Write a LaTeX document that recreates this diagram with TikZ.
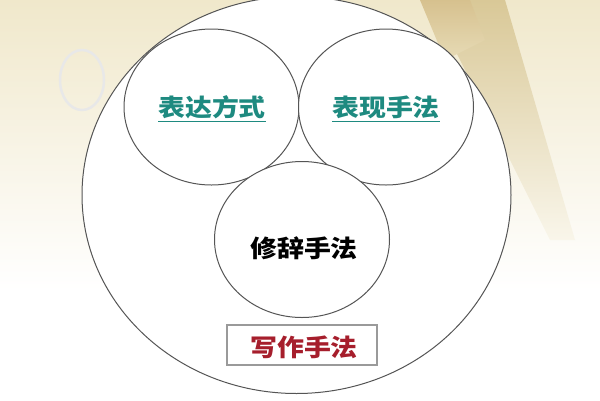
\documentclass[tikz,border=0pt]{standalone}
\usepackage{fontspec}
\newfontfamily\cjk{Noto Sans CJK SC}
\usetikzlibrary{shapes.geometric}
\definecolor{cream}{HTML}{F0E8CB}
\definecolor{tanstreak}{HTML}{D9C897}
\definecolor{lineg}{HTML}{555555}
\definecolor{tealtxt}{HTML}{1E8A80}
\definecolor{redtxt}{HTML}{A61E2C}
\definecolor{boxg}{HTML}{9A9A9A}
\tikzset{
  bubble/.style={ellipse, draw=lineg, line width=1pt, fill=white, minimum width=175pt, minimum height=156pt, inner sep=0pt},
  lbl/.style={font=\cjk\bfseries\fontsize{24}{28}\selectfont, inner sep=0pt},
}
\begin{document}
\begin{tikzpicture}[x=1pt,y=-1pt]
\useasboundingbox (0,0) rectangle (600,400);
% background
\fill[white] (0,0) rectangle (600,400);
\shade[top color=cream, bottom color=white] (0,0) rectangle (600,290);
\shade[top color=tanstreak, bottom color=white!60!cream] (430,0) -- (505,0) -- (575,240) -- (550,240) -- cycle;
\shade[top color=tanstreak!90!brown, bottom color=tanstreak!40!cream] (420,0) -- (470,0) -- (485,40) -- (445,60) -- cycle;
\draw[gray!18, line width=2.5pt] (82,80) ellipse (22 and 30);
% big ellipse
\node[ellipse, draw=lineg, line width=1pt, fill=white, minimum width=429pt, minimum height=397pt, inner sep=0pt] (big) at (296.5,195) {};
% circles
\node[bubble] (c1) at (211.5,107) {};
\node[bubble] (c2) at (386,107) {};
\node[bubble] (c3) at (302,239.5) {};
% labels
\node[lbl, text=tealtxt] (t1) at (212,107) {\scalebox{1.12}[1]{表达方式}};
\node[lbl, text=tealtxt] (t2) at (386,107) {\scalebox{1.12}[1]{表现手法}};
\draw[tealtxt, line width=1.3pt] ([yshift=-2.5pt]t1.south west) -- ([yshift=-2.5pt]t1.south east);
\draw[tealtxt, line width=1.3pt] ([yshift=-2.5pt]t2.south west) -- ([yshift=-2.5pt]t2.south east);
\node[lbl, text=black] (t3) at (304,248) {\scalebox{1.12}[1]{修辞手法}};
\node[draw=boxg, line width=1.5pt, fill=white, minimum width=150pt, minimum height=40pt, inner sep=0pt] (box) at (302,345) {};
\node[lbl, text=redtxt] (t4) at (304,347) {\scalebox{1.12}[1]{写作手法}};
\end{tikzpicture}
\end{document}
